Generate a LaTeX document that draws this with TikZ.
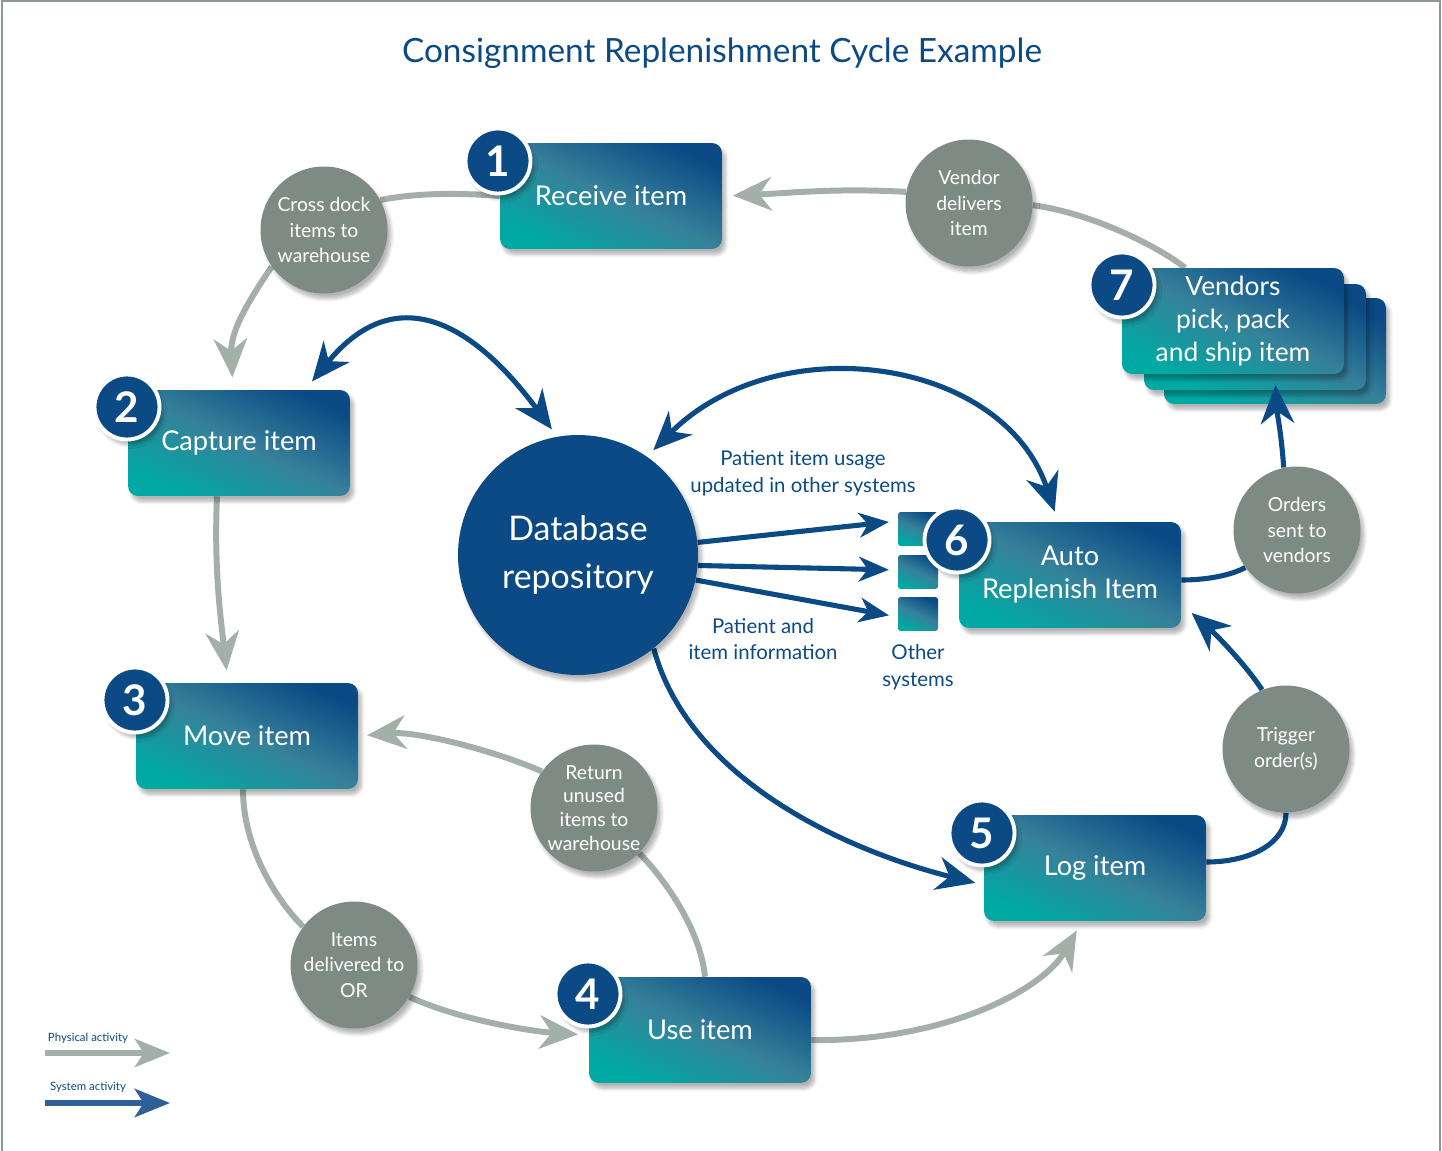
\documentclass[tikz,border=0pt]{standalone}
\usepackage{fontspec}
\setmainfont{Lato}
\usepackage{tikz}
\usetikzlibrary{arrows.meta,calc,positioning,backgrounds,shadows.blur}

\definecolor{navy}{HTML}{0B4A85}
\definecolor{tealc}{HTML}{00A9A4}
\definecolor{midteal}{HTML}{36819A}
\definecolor{stone}{HTML}{7E8B85}
\definecolor{physgray}{HTML}{A3AFA9}
\definecolor{legblue}{HTML}{2E5F98}
\definecolor{framegray}{HTML}{8D9993}

\tikzset{% boxes, bubbles and flows of the cycle
	softshadow/.style={blur shadow={shadow xshift=2pt, shadow yshift=-3pt, shadow blur steps=8, shadow opacity=30}},
	stepbox/.style={rounded corners=0.2cm, minimum width=4.44cm, minimum height=2.12cm,
		top color=navy, bottom color=tealc, middle color=midteal, shading angle=-25,
		text=white, align=center, font=\fontsize{15.5}{18.7}\selectfont, softshadow},
	sysbox/.style={rounded corners=1.5pt, minimum width=0.8cm, minimum height=0.68cm, inner sep=0pt,
		top color=navy, bottom color=tealc, middle color=midteal, shading angle=-25},
	numdot/.style={circle, fill=navy, draw=white, line width=2.2pt, minimum size=1.3cm, inner sep=0pt,
		text=white, font=\fontsize{24}{24}\selectfont\bfseries, softshadow},
	bubble/.style={circle, fill=stone, minimum size=2.54cm, inner sep=0pt, text=white, align=center,
		font=\fontsize{11}{14.7}\selectfont, softshadow},
	dbdot/.style={circle, fill=navy, minimum size=4.8cm, text=white, align=center,
		font=\fontsize{19.3}{27.5}\selectfont, softshadow},
	note/.style={text=navy, align=center, font=\fontsize{11.6}{15.2}\selectfont},
	phys/.style={draw=physgray, line width=3.4pt},
	sys/.style={draw=navy, line width=2.9pt}
}

\begin{document}
\begin{tikzpicture}[x=0.02cm, y=-0.02cm, >={Stealth[length=22pt,width=19pt,inset=7pt]}]
\useasboundingbox (0,0) rectangle (1442,1151);
\draw[framegray, line width=1.2pt] (2,1151) -- (2,1) -- (1440,1) -- (1440,1151);
\node[font=\fontsize{19}{22}\selectfont, text=navy] (title) at (722,53) {Consignment Replenishment Cycle Example};

% step 7 is a stack of three boxes
\node[stepbox] (v7back) at (1275,351) {};
\node[stepbox] (v7mid) at (1255,337) {};
\node[stepbox, font=\fontsize{15}{18.7}\selectfont] (v7front) at (1233,321) {Vendors\\pick, pack\\and ship item};

\node[stepbox] (receive) at (611,196) {Receive item};
\node[stepbox] (capture) at (239,443) {Capture item};
\node[stepbox] (move) at (247,736) {Move item};
\node[stepbox] (use) at (700,1030) {Use item};
\node[stepbox] (log) at (1095,868) {Log item};
\node[sysbox] (sys1) at (918,529) {};
\node[sysbox] (sys2) at (918,572) {};
\node[sysbox] (sys3) at (918,614) {};
\node[stepbox] (autorep) at (1070,575) {Auto\\Replenish Item};

\node[numdot] (n1) at (498,161) {1};
\node[numdot] (n2) at (127,407) {2};
\node[numdot] (n3) at (135,700) {3};
\node[numdot] (n4) at (588,994) {4};
\node[numdot] (n5) at (982,833) {5};
\node[numdot] (n6) at (957,540) {6};
\node[numdot] (n7) at (1122,285) {7};

\node[bubble] (cross) at (324,230) {Cross dock\\items to\\warehouse};
\node[bubble] (vendor) at (969,203) {Vendor\\delivers\\item};
\node[bubble] (orders) at (1297,530) {Orders\\sent to\\vendors};
\node[bubble] (trigger) at (1286,749) {Trigger\\order(s)};
\node[bubble, font=\fontsize{11}{13.6}\selectfont] (retwh) at (594,808) {Return\\unused\\items to\\warehouse};
\node[bubble] (toOR) at (354,965) {Items\\delivered to\\OR};

\node[dbdot] (db) at (578,555) {Database\\repository};

\node[note] (usage) at (803,473) {Patient item usage\\updated in other systems};
\node[note] (info) at (763,639) {Patient and\\item information};
\node[note] (other) at (918,667) {Other\\systems};

\begin{scope}[on background layer]
% physical activity
\draw[phys,->,shorten >=6pt] (vendor.170) .. controls +(-70,-4) and +(70,-3) .. (receive.east);
\draw[phys] (vendor.-2) .. controls +(60,8) and +(-25,-20) .. (v7front.132);
\draw[phys] (receive.west) .. controls +(-50,-4) and +(30,-6) .. (cross.28);
\draw[phys,->,shorten >=7pt] (cross.215) .. controls +(-20,30) and +(-3,-60) .. ($(capture.north)+(-6,0)$);
\draw[phys,->,shorten >=7pt] ($(capture.south)+(-22,0)$) .. controls +(-3,70) and +(-8,-70) .. ($(move.north)+(-19,0)$);
\draw[phys] ($(move.south)+(-4,0)$) .. controls +(0,60) and +(-25,-25) .. (toOR.143);
\draw[phys,->,shorten >=6pt] (toOR.-30) .. controls +(55,25) and +(-50,-3) .. ($(use.west)+(0,5)$);
\draw[phys] ($(use.north)+(5,0)$) .. controls +(-5,-50) and +(22,22) .. (retwh.-45);
\draw[phys,->,shorten >=5pt] (retwh.145) .. controls +(-45,-20) and +(60,-5) .. (move.east);
\draw[phys,->,shorten >=6pt] ($(use.east)+(0,10)$) .. controls +(130,2) and +(-40,70) .. ($(log.south)+(-13,0)$);
% system activity
\draw[sys,<->,shorten <=6pt,shorten >=5pt] ($(capture.north east)+(-45,0)$) .. controls +(90,-110) and +(-85,-115) .. (db.100);
\draw[sys,<->,shorten <=5pt,shorten >=6pt] (db.55) .. controls +(130,-130) and +(-55,-165) .. ($(autorep.north)+(-12,0)$);
\draw[sys,->,shorten >=5pt] (db.-51) .. controls +(35,130) and +(-140,-35) .. ($(log.west)+(0,17)$);
\draw[sys,->,shorten >=5pt,>={Stealth[length=17pt,width=14pt,inset=5pt]}] (db.6) -- ($(sys1.west)+(0,-8)$);
\draw[sys,->,shorten >=5pt,>={Stealth[length=17pt,width=14pt,inset=5pt]}] (db.-5) -- ($(sys2.west)+(0,-2)$);
\draw[sys,->,shorten >=5pt,>={Stealth[length=17pt,width=14pt,inset=5pt]}] (db.-12) -- ($(sys3.west)+(0,3)$);
\draw[sys] ($(autorep.east)+(0,5)$) .. controls +(25,0) and +(-15,8) .. (orders.216);
\draw[sys] ($(log.east)+(0,-6)$) .. controls +(45,0) and +(0,30) .. (trigger.-90);
\draw[sys,->,shorten >=4pt] (trigger.112) .. controls +(-20,-30) and +(25,22) .. ($(autorep.south east)+(5,-20)$);
\end{scope}
\draw[sys,->,shorten >=6pt] (orders.102) .. controls +(-3,-40) and +(2,40) .. ($(v7front.south)+(42,0)$);

% legend
\node[font=\fontsize{6.5}{8}\selectfont, text=navy] (physlbl) at (88,1038) {Physical activity};
\coordinate (physA) at (45,1053);
\coordinate (physB) at (170,1053);
\draw[physgray, line width=3.4pt, -{Stealth[length=20pt,width=16pt,inset=5pt]}] (physA) -- (physB);
\node[font=\fontsize{6.5}{8}\selectfont, text=navy] (syslbl) at (88,1087) {System activity};
\coordinate (sysA) at (45,1103);
\coordinate (sysB) at (170,1103);
\draw[legblue, line width=3.4pt, -{Stealth[length=20pt,width=16pt,inset=5pt]}] (sysA) -- (sysB);
\end{tikzpicture}
\end{document}
